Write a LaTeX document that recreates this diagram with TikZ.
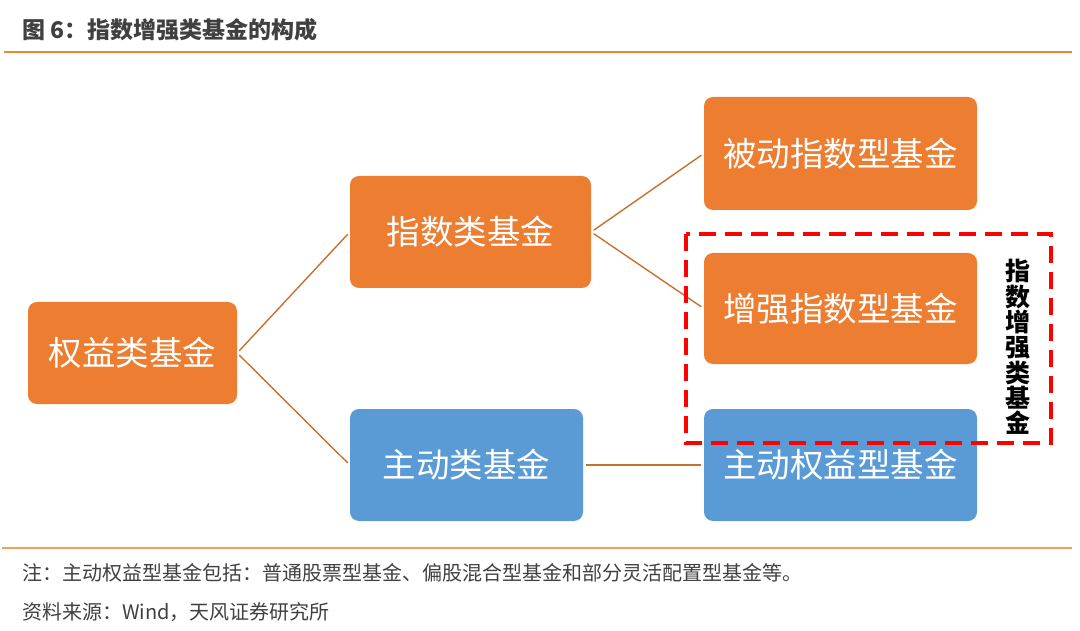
\documentclass[tikz,border=0pt]{standalone}
\usepackage{fontspec}
\setmainfont{Noto Sans CJK SC}
\usetikzlibrary{positioning}
\definecolor{boxorange}{RGB}{237,125,49}
\definecolor{boxblue}{RGB}{91,155,213}
\definecolor{linkbrown}{RGB}{200,112,45}
\definecolor{ruleorange}{RGB}{240,136,48}
\definecolor{titlegray}{RGB}{64,64,64}

\begin{document}
\begin{tikzpicture}[x=1pt,y=-1pt,
    fund/.style={fill=boxorange, rounded corners=9pt, inner sep=0pt, text=white,
        font=\fontsize{33.5}{40}\selectfont},
    activefund/.style={fund, fill=boxblue},
    link/.style={draw=linkbrown, line width=1.4pt, shorten <=3pt, shorten >=3pt},
    note/.style={anchor=west, inner sep=0pt, text=titlegray, font=\fontsize{20}{23}\selectfont}]
    \useasboundingbox (0,0) rectangle (1080,631);

    % Title and rules
    \node[anchor=west, inner sep=0pt, text=titlegray, font=\fontsize{23}{27}\selectfont\bfseries] (title) at (22,30) {图 6：指数增强类基金的构成};
    \draw[ruleorange, line width=2.2pt] (4,52) -- (1072,52);
    \draw[ruleorange!80, line width=1.4pt] (2,548) -- (1072,548);

    % Fund boxes
    \node[fund, minimum width=209pt, minimum height=102pt] (equity) at (132.5,353) {权益类基金};
    \node[fund, minimum width=241pt, minimum height=112pt] (index) at (470.5,232) {指数类基金};
    \node[activefund, minimum width=233pt, minimum height=112pt] (active) at (466.5,465) {主动类基金};
    \node[fund, minimum width=273pt, minimum height=113pt] (passive) at (840.5,153.5) {被动指数型基金};
    \node[fund, minimum width=273pt, minimum height=111pt] (enhanced) at (840.5,308.5) {增强指数型基金};
    \node[activefund, minimum width=273pt, minimum height=112pt] (activeeq) at (840.5,465) {主动权益型基金};

    % Connectors
    \foreach \a/\b in {equity/index, equity/active, index/passive, index/enhanced, active/activeeq}
        \draw[link] (\a.east) -- (\b.west);

    % Dashed group frame
    \draw[red, line width=3.8pt, dash pattern=on 17pt off 9pt] (686,234) rectangle (1051,443);
    \node[align=center, inner sep=0pt, font=\fontsize{25}{25.3}\selectfont\bfseries] (group) at (1018,347)
        {指\\数\\增\\强\\类\\基\\金};

    % Notes
    \node[note] (footnote) at (22,573) {注：主动权益型基金包括：普通股票型基金、偏股混合型基金和部分灵活配置型基金等。};
    \node[note] (source) at (22,612) {资料来源：Wind，天风证券研究所};
\end{tikzpicture}
\end{document}
